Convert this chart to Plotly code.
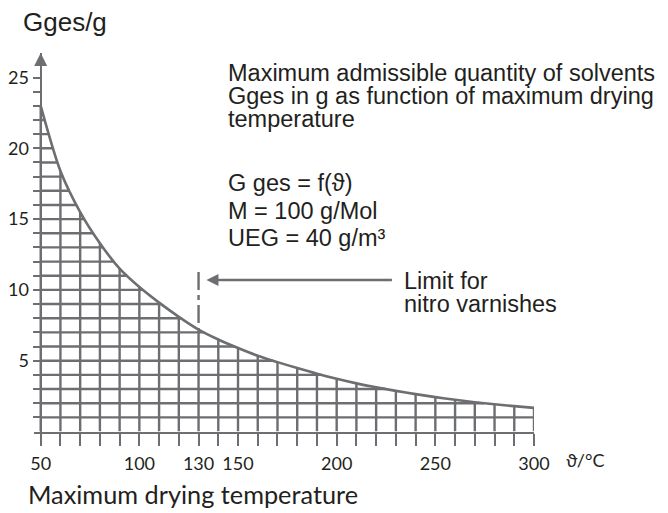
import numpy as np
import plotly.graph_objects as go

# ---------------- data ----------------
TEMPS = [50, 60, 70, 80, 90, 100, 110, 120, 130, 140, 150, 160, 170, 180, 190,
         200, 210, 220, 230, 240, 250, 260, 270, 280, 290, 300]
GGES = [23.0, 18.4, 15.5, 13.3, 11.5, 10.2, 9.1, 8.1, 7.2, 6.5, 5.9, 5.35, 4.9,
        4.48, 4.08, 3.72, 3.4, 3.12, 2.87, 2.64, 2.43, 2.24, 2.07, 1.92, 1.79, 1.67]
X_TICK_LABELS = [50, 100, 130, 150, 200, 250, 300]
Y_TICK_LABELS = [5, 10, 15, 20, 25]
Y_TICK_MAX = 25
NITRO_LIMIT = 130
LIMIT_LINE_TOP = 11.26
ARROW_Y = 10.7
ARROW_TIP_X = 134.0
ARROW_TAIL_X = 228

TITLE_LINES = ["Maximum admissible quantity of solvents",
               "Gges in g as function of maximum drying",
               "temperature"]
PARAM_LINES = ["G ges = f(\u03d1)", "M = 100 g/Mol", "UEG = 40 g/m\u00b3"]
LIMIT_LINES = ["Limit for", "nitro varnishes"]

# ---------------- style / layout ----------------
W, H = 668, 513
GRAY = "#6d6e71"
TXT = "#231f20"
LW = 2.4
ARIAL = "Liberation Sans, Arial, sans-serif"
CALIBRI = "Lato, Open Sans, sans-serif"

OFF = 8.0  # page body margin
X50_PX, X300_PX = 40.7 - OFF, 534.0 - OFF
Y0_PX, PX_PER_Y = 431.5 - OFF, 14.16
XS = (X300_PX - X50_PX) / (TEMPS[-1] - TEMPS[0])
AXIS_LEFT_PX = 34.0 - OFF
Y_TOP_PX = 53.0 - OFF          # tip of the y-axis arrow
x_left = TEMPS[0] - (X50_PX - AXIS_LEFT_PX) / XS
y_top = (Y0_PX - Y_TOP_PX) / PX_PER_Y


def px(x):
    return x / W


def py(y):
    return 1 - y / H


temps = np.array(TEMPS, float)
g = np.array(GGES, float)

# horizontal hatch lines below the curve
hx, hy = [], []
for k in range(1, Y_TICK_MAX + 1):
    if k >= g[0]:
        continue
    xe = np.interp(k, g[::-1], temps[::-1]) if k > g[-1] else temps[-1]
    hx += [temps[0], xe, None]
    hy += [k, k, None]

# vertical hatch lines below the curve
vx, vy = [], []
for t, v in zip(temps, g):
    vx += [t, t, None]
    vy += [0, v, None]

fig = go.Figure()
fig.add_trace(go.Scatter(x=hx, y=hy, mode="lines",
                         line=dict(color=GRAY, width=LW), hoverinfo="skip"))
fig.add_trace(go.Scatter(x=vx, y=vy, mode="lines",
                         line=dict(color=GRAY, width=LW), hoverinfo="skip"))
fig.add_trace(go.Scatter(x=TEMPS, y=GGES, mode="lines",
                         line=dict(color=GRAY, width=2.6, shape="spline", smoothing=0.8)))
g_limit = float(np.interp(NITRO_LIMIT, temps, g))
fig.add_trace(go.Scatter(x=[NITRO_LIMIT, NITRO_LIMIT], y=[LIMIT_LINE_TOP, g_limit],
                         mode="lines",
                         line=dict(color=GRAY, width=LW, dash="18px,5px,5px,5px")))
# limit arrow: shaft + head
fig.add_trace(go.Scatter(x=[ARROW_TAIL_X, ARROW_TIP_X + 5], y=[ARROW_Y, ARROW_Y], mode="lines",
                         line=dict(color=GRAY, width=LW), hoverinfo="skip"))
fig.add_trace(go.Scatter(x=[ARROW_TIP_X], y=[ARROW_Y], mode="markers",
                         marker=dict(symbol="arrow-left", size=12, color=GRAY,
                                     line=dict(width=0)),
                         cliponaxis=False, hoverinfo="skip"))
# y-axis arrow head (tip at the top of the axis range)
fig.add_trace(go.Scatter(x=[TEMPS[0]], y=[y_top], mode="markers",
                         marker=dict(symbol="arrow-up", size=13, color=GRAY,
                                     line=dict(width=0)),
                         cliponaxis=False, hoverinfo="skip"))

x_ticktext = [str(t) if t in X_TICK_LABELS else "" for t in TEMPS]
y_tickvals = list(range(1, Y_TICK_MAX + 1))
y_ticktext = [str(v) if v in Y_TICK_LABELS else "" for v in y_tickvals]

fig.update_layout(
    width=W, height=H, autosize=False,
    margin=dict(l=0, r=0, t=0, b=0),
    paper_bgcolor="white", plot_bgcolor="white",
    showlegend=False,
    xaxis=dict(domain=[px(AXIS_LEFT_PX), px(X300_PX)], range=[x_left, TEMPS[-1]],
               showline=True, linecolor=GRAY, linewidth=LW,
               ticks="outside", ticklen=12, tickwidth=LW, tickcolor=GRAY,
               tickmode="array", tickvals=TEMPS, ticktext=x_ticktext,
               tickfont=dict(family=CALIBRI, size=18, color=TXT),
               ticklabelstandoff=3,
               showgrid=False, zeroline=False, automargin=False, fixedrange=True),
    yaxis=dict(domain=[py(Y0_PX), py(Y_TOP_PX)], range=[0, y_top],
               anchor="free", position=px(X50_PX),
               showline=True, linecolor=GRAY, linewidth=LW,
               ticks="outside", ticklen=7, tickwidth=LW, tickcolor=GRAY,
               tickmode="array", tickvals=y_tickvals, ticktext=y_ticktext,
               tickfont=dict(family=CALIBRI, size=18, color=TXT),
               showgrid=False, zeroline=False, automargin=False, fixedrange=True),
)

ann = []


def text(s, x, y, size, family=ARIAL):
    # x, y: positions measured on the page; adjust for body margin and padding
    ann.append(dict(xref="paper", yref="paper", x=px(x - OFF - 3), y=py(y - OFF), text=s,
                    showarrow=False, xanchor="left", yanchor="middle",
                    font=dict(family=family, size=size, color=TXT)))


text("Gges/g", 24, 22, 26)
for i, s in enumerate(TITLE_LINES):
    text(s, 229, 73.3 + 22.8 * i, 23.5)
for i, s in enumerate(PARAM_LINES):
    text(s, 229, 183.3 + 27.2 * i, 23.5)
for i, s in enumerate(LIMIT_LINES):
    text(s, 405, 281 + 22.8 * i, 23.5)
text("\u03d1/\u00b0C", 567, 460, 18, CALIBRI)
text("Maximum drying temperature", 29, 494, 25.3, CALIBRI)

fig.update_layout(annotations=ann)
fig.write_html("out.html")
